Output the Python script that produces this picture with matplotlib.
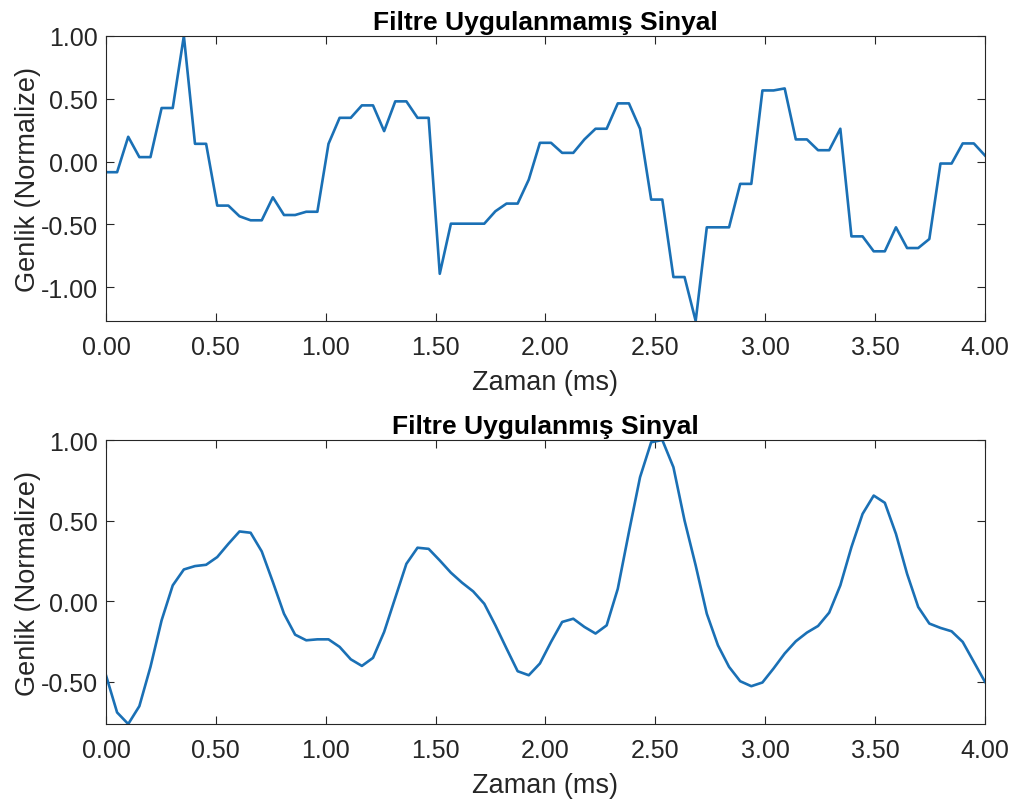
import numpy as np
import matplotlib
matplotlib.use("Agg")
from matplotlib import pyplot as plt, ticker

plt.rcParams['font.family'] = ['Liberation Sans', 'DejaVu Sans']
plt.rcParams['axes.unicode_minus'] = False

# time axis: 80 samples over 0-4 ms
t = np.linspace(0, 4, 80)

raw_signal = [
    -0.085, -0.085, 0.197, 0.035, 0.035, 0.426, 0.426, 1.00, 0.141, 0.141,
    -0.351, -0.351, -0.436, -0.468, -0.468, -0.285, -0.426, -0.426, -0.40, -0.40,
    0.141, 0.348, 0.348, 0.447, 0.447, 0.242, 0.479, 0.479, 0.348, 0.348,
    -0.894, -0.495, -0.495, -0.495, -0.495, -0.396, -0.335, -0.335, -0.144, 0.149,
    0.149, 0.069, 0.069, 0.176, 0.261, 0.261, 0.463, 0.463, 0.261, -0.303,
    -0.303, -0.92, -0.92, -1.27, -0.524, -0.524, -0.524, -0.178, -0.178, 0.566,
    0.566, 0.582, 0.176, 0.176, 0.090, 0.090, 0.261, -0.596, -0.596, -0.715,
    -0.715, -0.524, -0.689, -0.689, -0.617, -0.016, -0.016, 0.144, 0.144, 0.048,
]

filtered_signal = [
    -0.461, -0.692, -0.764, -0.653, -0.409, -0.120, 0.097, 0.196, 0.217, 0.225,
    0.273, 0.355, 0.432, 0.424, 0.308, 0.118, -0.079, -0.209, -0.244, -0.238,
    -0.238, -0.285, -0.362, -0.403, -0.353, -0.192, 0.02, 0.231, 0.331, 0.324,
    0.252, 0.176, 0.114, 0.060, -0.017, -0.151, -0.295, -0.436, -0.461, -0.388,
    -0.254, -0.130, -0.110, -0.161, -0.202, -0.151, 0.076, 0.428, 0.769, 0.986,
    1.00, 0.831, 0.500, 0.221, -0.079, -0.275, -0.409, -0.498, -0.529, -0.506,
    -0.419, -0.326, -0.250, -0.196, -0.155, -0.072, 0.097, 0.335, 0.541, 0.655,
    0.610, 0.417, 0.169, -0.037, -0.140, -0.167, -0.188, -0.254, -0.378, -0.502,
]

titles = ['Filtre Uygulanmamış Sinyal', 'Filtre Uygulanmış Sinyal']
yticks_top = [-1.0, -0.5, 0.0, 0.5, 1.0]
yticks_bottom = [-0.5, 0.0, 0.5, 1.0]
xticks = np.arange(0, 4.01, 0.5)

dark = '#262626'
fig = plt.figure(figsize=(10.17, 8.03), dpi=100)
ax1 = fig.add_axes([0.1042, 0.599, 0.8643, 0.355])
ax2 = fig.add_axes([0.1042, 0.0971, 0.8643, 0.3537])

for ax, y, title, yt in [(ax1, raw_signal, titles[0], yticks_top),
                         (ax2, filtered_signal, titles[1], yticks_bottom)]:
    ax.plot(t, y, color='#1a70b5', linewidth=1.9)
    ax.set_xlim(0, 4)
    ax.set_ylim(min(y), max(y))
    ax.set_xticks(xticks)
    ax.set_yticks(yt)
    ax.xaxis.set_major_formatter(ticker.FormatStrFormatter('%.2f'))
    ax.yaxis.set_major_formatter(ticker.FormatStrFormatter('%.2f'))
    ax.tick_params(direction='in', length=6, width=0.8, colors=dark,
                   labelsize=18, top=True, right=True)
    ax.tick_params(axis='x', pad=10)
    ax.tick_params(axis='y', pad=6)
    for s in ax.spines.values():
        s.set_color(dark)
        s.set_linewidth(0.8)
    ax.set_title(title, fontsize=19, fontweight='bold', pad=5, color='black')
    ax.set_xlabel('Zaman (ms)', fontsize=19.5, color=dark, labelpad=7)
    ax.set_ylabel('Genlik (Normalize)', fontsize=19.5, color=dark, labelpad=0)

fig.savefig('out.png', dpi=100)
